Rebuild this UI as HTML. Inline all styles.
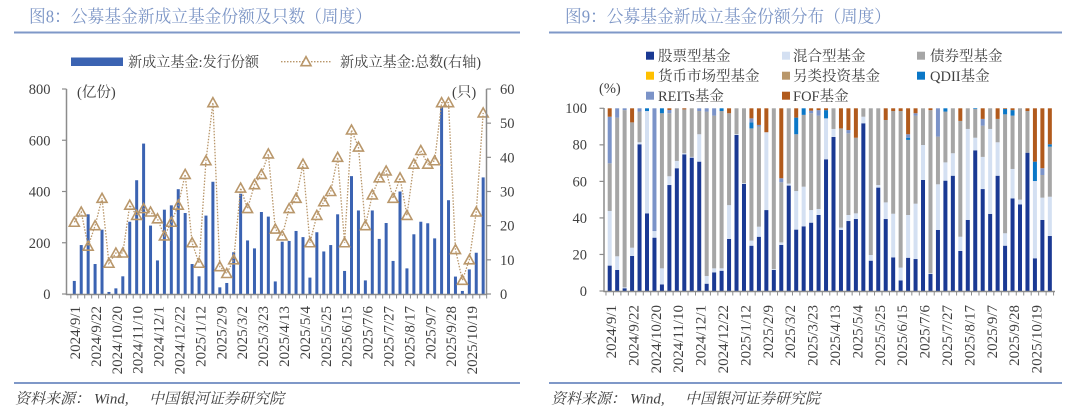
<!DOCTYPE html>
<html><head><meta charset="utf-8">
<style>
html,body{margin:0;padding:0;background:#fff;}
svg{display:block;}
text{font-family:"Liberation Serif","Noto Serif CJK SC",serif;}
</style></head>
<body>
<svg id="s" width="1080" height="414" viewBox="0 0 1080 414" xmlns="http://www.w3.org/2000/svg">
<rect width="1080" height="414" fill="#fff"/>

<!-- Titles -->
<text x="29" y="22.5" font-size="17.5" fill="#7d96c6" textLength="343" lengthAdjust="spacingAndGlyphs">图8：公募基金新成立基金份额及只数（周度）</text>
<line x1="14" y1="32.5" x2="520" y2="32.5" stroke="#7f98c8" stroke-width="2"/>
<text x="565" y="22.5" font-size="17.5" fill="#7d96c6" textLength="326" lengthAdjust="spacingAndGlyphs">图9：公募基金新成立基金份额分布（周度）</text>
<line x1="549" y1="32.5" x2="1062" y2="32.5" stroke="#7f98c8" stroke-width="2"/>

<!-- Bottom lines and sources -->
<line x1="14" y1="383" x2="520" y2="383" stroke="#7f98c8" stroke-width="2"/>
<line x1="549" y1="383" x2="1062" y2="383" stroke="#7f98c8" stroke-width="2"/>
<g font-size="15" font-style="italic" fill="#404040">
<text x="15" y="403.5">资料来源：</text><text x="94" y="403.5">Wind,</text><text x="149" y="403.5" textLength="135" lengthAdjust="spacingAndGlyphs">中国银河证券研究院</text>
<text x="551" y="403.5">资料来源：</text><text x="630" y="403.5">Wind,</text><text x="685" y="403.5" textLength="135" lengthAdjust="spacingAndGlyphs">中国银河证券研究院</text>
</g>

<!-- LEFT legend -->
<rect x="71" y="57.5" width="52" height="8.5" fill="#3b63b2"/>
<text x="128" y="67" font-size="14.5" fill="#404040" textLength="131" lengthAdjust="spacingAndGlyphs">新成立基金:发行份额</text>
<line x1="281" y1="61.7" x2="331" y2="61.7" stroke="#b9976b" stroke-width="1.3" stroke-dasharray="1.5 1.5"/>
<polygon points="306,56.7 301,65.7 311,65.7" fill="#fff" stroke="#b9976b" stroke-width="1.6"/>
<text x="340" y="67" font-size="14.5" fill="#404040" textLength="141" lengthAdjust="spacingAndGlyphs">新成立基金:总数(右轴)</text>

<!-- LEFT axis labels -->
<g font-size="14.5" fill="#404040" text-anchor="end">
<text x="50.5" y="94">800</text>
<text x="50.5" y="145.3">600</text>
<text x="50.5" y="196.5">400</text>
<text x="50.5" y="247.8">200</text>
<text x="50.5" y="299">0</text>
</g>
<g font-size="14.5" fill="#404040">
<text x="500" y="94">60</text>
<text x="500" y="128.2">50</text>
<text x="500" y="162.3">40</text>
<text x="500" y="196.5">30</text>
<text x="500" y="230.7">20</text>
<text x="500" y="264.8">10</text>
<text x="500" y="299">0</text>
<text x="77" y="97">(亿份)</text>
<text x="452" y="97">(只)</text>
</g>

<!-- LEFT x labels -->
<g font-size="15" fill="#404040" text-anchor="end">
<text transform="translate(80,306) rotate(-90)">2024/9/1</text>
<text transform="translate(100.9,306) rotate(-90)">2024/9/22</text>
<text transform="translate(121.8,306) rotate(-90)">2024/10/20</text>
<text transform="translate(142.7,306) rotate(-90)">2024/11/10</text>
<text transform="translate(163.6,306) rotate(-90)">2024/12/1</text>
<text transform="translate(184.5,306) rotate(-90)">2024/12/22</text>
<text transform="translate(205.4,306) rotate(-90)">2025/1/12</text>
<text transform="translate(226.3,306) rotate(-90)">2025/2/9</text>
<text transform="translate(247.2,306) rotate(-90)">2025/3/2</text>
<text transform="translate(268.1,306) rotate(-90)">2025/3/23</text>
<text transform="translate(289,306) rotate(-90)">2025/4/13</text>
<text transform="translate(309.9,306) rotate(-90)">2025/5/4</text>
<text transform="translate(330.8,306) rotate(-90)">2025/5/25</text>
<text transform="translate(351.7,306) rotate(-90)">2025/6/15</text>
<text transform="translate(372.6,306) rotate(-90)">2025/7/6</text>
<text transform="translate(393.5,306) rotate(-90)">2025/7/27</text>
<text transform="translate(414.4,306) rotate(-90)">2025/8/17</text>
<text transform="translate(435.3,306) rotate(-90)">2025/9/7</text>
<text transform="translate(456.2,306) rotate(-90)">2025/9/28</text>
<text transform="translate(477.1,306) rotate(-90)">2025/10/19</text>
</g>

<!-- RIGHT legend -->
<g font-size="14.5" fill="#404040">
<rect x="646" y="51.7" width="8" height="8" fill="#1a3993"/><text x="658" y="61">股票型基金</text>
<rect x="782" y="51.7" width="8" height="8" fill="#d4e0f2"/><text x="793" y="61">混合型基金</text>
<rect x="917" y="51.7" width="8" height="8" fill="#a6a6a6"/><text x="930" y="61">债券型基金</text>
<rect x="646" y="71.7" width="8" height="8" fill="#ffc000"/><text x="658" y="81">货币市场型基金</text>
<rect x="782" y="71.7" width="8" height="8" fill="#b9976b"/><text x="793" y="81">另类投资基金</text>
<rect x="917" y="71.7" width="8" height="8" fill="#0a77c7"/><text x="930" y="81">QDII基金</text>
<rect x="646" y="91.7" width="8" height="8" fill="#7b93c8"/><text x="658" y="101">REITs基金</text>
<rect x="782" y="91.7" width="8" height="8" fill="#b15a1c"/><text x="793" y="101">FOF基金</text>
<text x="599" y="93">(%)</text>
</g>

<!-- RIGHT y labels -->
<g font-size="14.5" fill="#404040" text-anchor="end">
<text x="587" y="113">100</text>
<text x="587" y="149.7">80</text>
<text x="587" y="186.3">60</text>
<text x="587" y="222.9">40</text>
<text x="587" y="259.5">20</text>
<text x="587" y="296">0</text>
</g>

<!-- RIGHT x labels -->
<g font-size="15" fill="#404040" text-anchor="end">
<text transform="translate(616,305) rotate(-90)">2024/9/1</text>
<text transform="translate(638.4,305) rotate(-90)">2024/9/22</text>
<text transform="translate(660.8,305) rotate(-90)">2024/10/20</text>
<text transform="translate(683.2,305) rotate(-90)">2024/11/10</text>
<text transform="translate(705.6,305) rotate(-90)">2024/12/1</text>
<text transform="translate(728,305) rotate(-90)">2024/12/22</text>
<text transform="translate(750.4,305) rotate(-90)">2025/1/12</text>
<text transform="translate(772.8,305) rotate(-90)">2025/2/9</text>
<text transform="translate(795.2,305) rotate(-90)">2025/3/2</text>
<text transform="translate(817.6,305) rotate(-90)">2025/3/23</text>
<text transform="translate(840,305) rotate(-90)">2025/4/13</text>
<text transform="translate(862.4,305) rotate(-90)">2025/5/4</text>
<text transform="translate(884.8,305) rotate(-90)">2025/5/25</text>
<text transform="translate(907.2,305) rotate(-90)">2025/6/15</text>
<text transform="translate(929.6,305) rotate(-90)">2025/7/6</text>
<text transform="translate(952,305) rotate(-90)">2025/7/27</text>
<text transform="translate(974.4,305) rotate(-90)">2025/8/17</text>
<text transform="translate(996.8,305) rotate(-90)">2025/9/7</text>
<text transform="translate(1019.2,305) rotate(-90)">2025/9/28</text>
<text transform="translate(1041.6,305) rotate(-90)">2025/10/19</text>
</g>

<g id="dyn"></g>
</svg>
<script>
(function(){
var bars=[51,191,311,117,251,8,22,69,282,444,587,267,131,329,346,409,316,117,69,306,438,26,43,163,391,209,178,320,302,49,204,207,246,222,64,241,166,191,311,90,460,326,53,326,215,277,129,400,100,233,282,276,217,730,366,68,12,96,161,455];
var cnt=[21,24,14,20,28,9,12,12,26,23,25,24,22,17,21,26,35,15,9,39,56,8,6,10,31,25,32,35,41,19,17,25,28,38,15,23,27,30,40,15,48,43,20,29,34,36,28,34,23,38,42,38,39,56,56,13,4,10,24,53];
var st=[
[13.9,43.8,69.9,69.9,95.4],[11.5,19,94.9,94.9,100],[1.5,2,99,99,100],[19.2,23.7,92.3,92.3,92.3],[80.3,81.4,98.2,98.2,100],
[42.5,98.5,98.5,100,100],[29.2,32.8,32.8,32.8,100],[3.6,12.4,97.3,100,100],[58,62.8,97.3,97.3,99.1],[67.2,71.2,100,100,100],
[74.8,75.4,99.4,99.4,99.4],[73,73.4,100,100,100],[70.8,85.8,98.5,98.5,100],[4,8.2,98.2,98.2,100],[10.2,12.4,96,96,100],
[11.1,12.4,98.5,100,100],[28.5,47,97.3,97.3,97.3],[85.4,85.8,100,100,100],[58.6,59,100,100,100],[24.8,27.6,89,92.3,94.5],
[29.7,35.2,90,90,90.9],[44.3,86.9,86.9,86.9,86.9],[11.5,12,100,100,100],[25.2,26.6,59.5,59.5,61.7],[57.7,58.8,100,100,100],
[33.6,54.7,85.8,94.9,94.9],[35.4,57.1,96.4,100,100],[37.4,44.3,97.3,97.3,98.7],[41.6,44.9,96,96,99],[72.1,94.5,94.5,99,99],
[84.3,88.7,100,100,100],[33.4,34.7,89,89,89],[38.3,41.6,86.3,86.3,88.1],[39.4,42.5,83.9,83.9,83.9],[91.8,95.4,100,100,100],
[16.6,19.7,100,100,100],[56.6,58,100,100,100],[39.4,48.5,93.6,93.6,93.6],[18.4,42.3,98.5,98.5,98.5],[5.8,12.8,98.5,98.5,98.5],
[18.2,41.6,82.7,83.9,85.8],[17.5,47.8,96,96,97.3],[60.8,79.9,100,100,100],[9.3,9.7,99,99,99],[33.4,58.4,84.5,84.5,100],
[60.4,70.4,98.2,100,100],[63.1,75.4,100,100,100],[21.9,29.7,93.1,93.1,93.1],[38.9,88.7,100,100,100],[77,83.9,99.6,100,100],
[55.8,73.4,90.5,90.5,94.2],[42.2,88.7,100,100,100],[63.1,81.4,94.2,94.2,94.2],[24.8,31.6,96.7,99.6,99.6],[50.7,66.8,96,99,99],
[47.4,50,100,100,100],[75.7,75.7,98.5,98.5,98.5],[17.9,60.2,60.2,70.8,70.8],[38.9,51.1,63.5,63.5,67.2],[30.1,51.6,79,80.3,80.3]];
var cols=["#1a3993","#d4e0f2","#a6a6a6","#0a77c7","#7b93c8","#b15a1c"];
var h='';
var AX='#8c8c8c';
// LEFT chart
var y0=294, k=205/800, k2=205/60;
for(var i=0;i<60;i++){
  var cx=74.3+6.93*i, hh=bars[i]*k;
  h+='<rect x="'+(cx-1.5).toFixed(2)+'" y="'+(y0-hh).toFixed(2)+'" width="3" height="'+hh.toFixed(2)+'" fill="#3b63b2"/>';
}
var pts=[];
for(var i=0;i<60;i++){pts.push((74.3+6.93*i).toFixed(2)+','+(y0-cnt[i]*k2).toFixed(2));}
h+='<polyline points="'+pts.join(' ')+'" fill="none" stroke="#b9976b" stroke-width="1.3" stroke-dasharray="1.5 1.5"/>';
for(var i=0;i<60;i++){
  var cx=74.3+6.93*i, cy=y0-cnt[i]*k2;
  h+='<polygon points="'+cx.toFixed(2)+','+(cy-5).toFixed(2)+' '+(cx-5).toFixed(2)+','+(cy+4).toFixed(2)+' '+(cx+5).toFixed(2)+','+(cy+4).toFixed(2)+'" fill="none" stroke="#b9976b" stroke-width="1.6"/>';
}
// left axes
h+='<line x1="66.5" y1="89" x2="66.5" y2="295" stroke="'+AX+'" stroke-width="1.5"/>';
h+='<line x1="486.5" y1="89" x2="486.5" y2="295" stroke="'+AX+'" stroke-width="1.5"/>';
h+='<line x1="66" y1="294.5" x2="487" y2="294.5" stroke="'+AX+'" stroke-width="1.5"/>';
for(var j=0;j<5;j++){var yy=89+j*51.25;h+='<line x1="62" y1="'+yy+'" x2="66.5" y2="'+yy+'" stroke="'+AX+'" stroke-width="1.2"/>';}
for(var j=0;j<7;j++){var yy=89+j*205/6;h+='<line x1="486.5" y1="'+yy+'" x2="491" y2="'+yy+'" stroke="'+AX+'" stroke-width="1.2"/>';}
for(var j=0;j<=60;j++){var xx=70.85+6.93*j;h+='<line x1="'+xx.toFixed(2)+'" y1="294.5" x2="'+xx.toFixed(2)+'" y2="298.5" stroke="'+AX+'" stroke-width="1"/>';}
// RIGHT chart
var r0=291, rk=182.7/100;
for(var i=0;i<60;i++){
  var cx=609.7+7.46*i, d=st[i], prev=0;
  var tops=[d[0],d[1],d[2],d[3],d[4],100];
  for(var s=0;s<6;s++){
    var t=tops[s];
    if(t>prev+0.01){
      var ya=r0-t*rk, yb=r0-prev*rk;
      h+='<rect x="'+(cx-2).toFixed(2)+'" y="'+ya.toFixed(2)+'" width="4" height="'+(yb-ya).toFixed(2)+'" fill="'+cols[s]+'"/>';
    }
    if(t>prev)prev=t;
  }
}
h+='<line x1="604" y1="108" x2="604" y2="292" stroke="'+AX+'" stroke-width="1.5"/>';
h+='<line x1="603.5" y1="291.5" x2="1055" y2="291.5" stroke="'+AX+'" stroke-width="1.5"/>';
for(var j=0;j<6;j++){var yy=108.3+j*182.7/5;h+='<line x1="599.5" y1="'+yy.toFixed(2)+'" x2="604" y2="'+yy.toFixed(2)+'" stroke="'+AX+'" stroke-width="1.2"/>';}
for(var j=0;j<=60;j++){var xx=605.97+7.46*j;h+='<line x1="'+xx.toFixed(2)+'" y1="291.5" x2="'+xx.toFixed(2)+'" y2="295.5" stroke="'+AX+'" stroke-width="1"/>';}
document.getElementById('dyn').innerHTML=h;
})();
</script>
</body></html>
